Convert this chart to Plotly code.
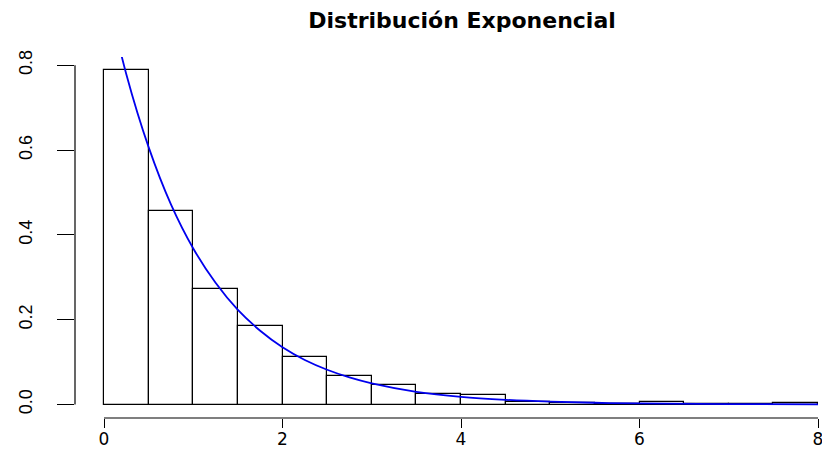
import plotly.graph_objects as go

# Histogram data (density scale), bin width 0.5 from 0 to 8
bin_left = [0.0, 0.5, 1.0, 1.5, 2.0, 2.5, 3.0, 3.5, 4.0, 4.5, 5.0, 5.5, 6.0, 6.5, 7.0, 7.5]
bin_width = 0.5
density = [0.788, 0.456, 0.272, 0.184, 0.112, 0.068, 0.046, 0.024, 0.022,
           0.006, 0.004, 0.002, 0.006, 0.002, 0.002, 0.004]

# Density curve
curve_x = [0.0, 0.25, 0.5, 0.75, 1.0, 1.25, 1.5, 1.75, 2.0, 2.25, 2.5, 2.75, 3.0,
           3.5, 4.0, 4.5, 5.0, 5.5, 6.0, 7.0, 8.0]
curve_y = [1.0, 0.779, 0.607, 0.472, 0.368, 0.287, 0.223, 0.174, 0.135, 0.105,
           0.082, 0.064, 0.050, 0.030, 0.018, 0.011, 0.0067, 0.0041, 0.0025,
           0.0009, 0.0003]

x_ticks = [0, 2, 4, 6, 8]
x_labels = ["0", "2", "4", "6", "8"]
y_ticks = [0.0, 0.2, 0.4, 0.6, 0.8]
y_labels = ["0.0", "0.2", "0.4", "0.6", "0.8"]
title = "Distribución Exponencial"

W, H = 822, 451
ML, MR, MT, MB = 75, 0, 57, 33
px_per_x = 89.25
px_per_y = 424.0
x_min = -(104 - ML) / px_per_x
x_max = x_min + (W - ML - MR) / px_per_x
y_min = -(418 - 404.5) / px_per_y
y_max = y_min + (H - MT - MB) / px_per_y

mids = [b + bin_width / 2 for b in bin_left]

fig = go.Figure()
fig.add_trace(go.Bar(
    x=mids, y=density, width=bin_width,
    marker=dict(color="white", line=dict(color="black", width=1.2)),
    hoverinfo="skip", showlegend=False,
))
fig.add_trace(go.Scatter(
    x=curve_x, y=curve_y, mode="lines", line=dict(color="#0000ee", width=1.8, shape="spline"),
    hoverinfo="skip", showlegend=False,
))

def fx(v):
    return (v - x_min) / (x_max - x_min)

def fy(v):
    return (v - y_min) / (y_max - y_min)

shapes = [
    dict(type="line", xref="paper", yref="paper", x0=fx(x_ticks[0]), x1=fx(x_ticks[-1]),
         y0=0, y1=0, line=dict(color="black", width=1.2)),
    dict(type="line", xref="paper", yref="paper", x0=0, x1=0,
         y0=fy(y_ticks[0]), y1=fy(y_ticks[-1]), line=dict(color="black", width=1.2)),
]

fig.update_layout(
    width=W, height=H,
    margin=dict(l=ML, r=MR, t=MT, b=MB, pad=0, autoexpand=False),
    paper_bgcolor="white", plot_bgcolor="white",
    bargap=0,
    shapes=shapes,
    font=dict(family="Liberation Sans, Arial, sans-serif", color="black"),
    title=dict(text="<b>" + title + "</b>", x=462 / W, xref="container", xanchor="center",
               y=1 - 20 / H, yref="container", yanchor="middle",
               font=dict(family="DejaVu Sans, sans-serif", size=22, color="black")),
    xaxis=dict(range=[x_min, x_max], showgrid=False, zeroline=False, showline=False,
               automargin=False, ticklabeloverflow="allow",
               tickmode="array", tickvals=x_ticks, ticktext=x_labels,
               ticks="outside", ticklen=9, tickwidth=1.2, tickcolor="black",
               tickfont=dict(size=17, family="DejaVu Sans, sans-serif"), ticklabelstandoff=-3),
    yaxis=dict(range=[y_min, y_max], showgrid=False, zeroline=False, showline=False,
               automargin=False,
               tickmode="array", tickvals=y_ticks, ticktext=y_labels,
               ticks="outside", ticklen=17, tickwidth=1.2, tickcolor="black", tickangle=-90,
               tickfont=dict(size=18), ticklabelstandoff=18),
)

fig.write_html("out.html")
